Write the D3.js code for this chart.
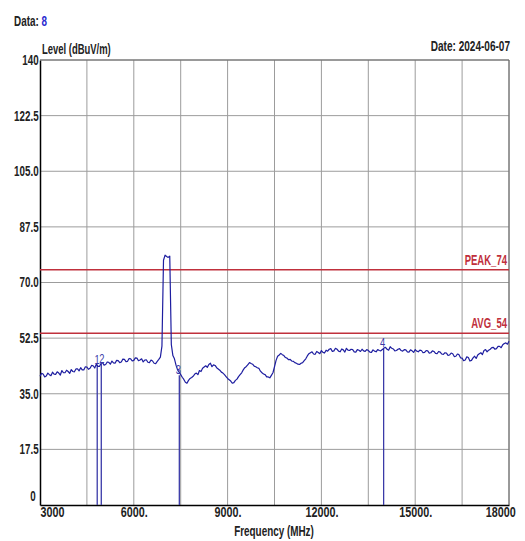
<!DOCTYPE html>
<html><head><meta charset="utf-8">
<script src="https://cdn.jsdelivr.net/npm/d3@7"></script>
<style>
html,body{margin:0;padding:0;background:#fff;}
svg{display:block;}
text{font-family:"Liberation Sans",Arial,sans-serif;}
</style></head>
<body>
<svg id="chart" width="525" height="541"></svg>
<script>
// ---- data ----
const yTicks = [0, 17.5, 35, 52.5, 70, 87.5, 105, 122.5, 140];
const yTickLabels = ["0", "17.5", "35.0", "52.5", "70.0", "87.5", "105.0", "122.5", "140"];
const xGrid = [3000, 4500, 6000, 7500, 9000, 10500, 12000, 13500, 15000, 16500, 18000];
const xTicks = [3000, 6000, 9000, 12000, 15000, 18000];
const xTickLabels = ["3000", "6000.", "9000.", "12000.", "15000.", "18000"];

const traceFreq = d3.range(3000, 18001, 50);
const traceLevel = [
 40.5,41.4,41.2,40.3,40.6,41.5,41.0,40.7,41.8,41.2,41.1,41.9,41.5,40.9,42.3,41.6,41.6,42.4,42.0,41.4,
 42.6,42.0,41.9,42.8,42.8,42.2,43.2,42.5,42.5,43.5,43.4,42.7,43.0,43.9,43.8,43.1,44.3,43.6,43.6,44.5,
 44.8,44.0,44.2,45.0,44.9,44.3,45.3,44.7,44.6,45.5,45.4,44.8,45.0,45.9,45.8,45.1,45.2,46.1,46.0,45.3,
 45.5,46.3,46.2,45.4,45.6,46.0,45.0,45.6,45.7,44.9,44.8,45.6,45.3,44.6,44.5,45.2,45.8,46.5,50.0,77.0,
 78.6,78.2,77.9,78.3,50.5,47.0,46.0,44.0,42.5,41.8,41.0,40.2,39.5,38.6,38.3,39.2,39.8,40.1,40.5,41.2,
 41.5,41.0,42.3,42.0,43.0,43.4,43.8,43.3,44.2,44.6,43.5,44.1,43.9,43.2,42.8,42.4,41.8,41.5,41.0,40.4,
 39.8,39.4,39.0,38.3,38.5,39.2,39.6,40.4,41.0,41.6,42.5,43.2,43.6,44.2,44.8,44.5,44.3,43.7,43.5,43.2,
 43.0,42.1,41.6,41.2,41.0,40.3,40.3,40.0,40.8,41.6,43.5,45.5,46.8,47.2,47.7,47.3,47.0,46.4,46.2,45.7,
 45.8,45.3,45.2,44.8,44.6,44.3,44.2,44.6,44.8,45.4,46.0,46.9,47.6,47.9,48.2,47.5,47.4,48.3,48.0,47.6,
 48.6,48.0,47.8,48.7,48.4,49.0,49.2,48.3,48.5,49.3,49.0,48.4,48.2,49.1,48.8,48.1,49.3,48.7,48.6,49.0,
 48.9,48.2,48.1,48.9,48.7,48.3,49.0,48.5,48.3,48.9,48.6,48.1,48.0,48.8,48.4,48.2,48.9,48.6,48.5,48.9,
 49.4,49.6,49.0,48.7,49.8,49.3,49.1,48.5,48.6,49.0,49.2,48.6,48.4,48.9,48.8,48.2,48.1,48.8,48.5,48.0,
 48.9,48.4,48.2,48.7,48.6,47.9,48.0,48.6,48.5,47.8,47.9,48.5,48.3,47.7,47.6,48.3,48.1,47.5,47.4,47.9,
 47.8,47.1,47.2,47.8,47.6,46.7,46.8,47.5,47.3,46.3,46.2,45.4,45.6,46.6,46.4,45.3,45.5,46.3,46.8,46.1,
 47.2,47.6,47.9,47.3,48.6,48.9,48.2,48.7,49.0,49.5,49.6,49.0,49.2,49.9,49.9,49.5,50.4,50.8,51.0,50.6,
 51.5
];

const limitValues = [74, 54];
const limitLabels = ["PEAK_74", "AVG_54"];

const markerFreq = [4830, 4960, 7456, 13990];
const markerLevel = [44.2, 44.4, 40.8, 49.3];
const markerLabels = ["1", "2", "3", "4"];

// ---- layout ----
const L = 40, R = 509, T = 60, B = 505;
const svg = d3.select("#chart");
const x = d3.scaleLinear().domain([3000, 18000]).range([L, R]);
const y = d3.scaleLinear().domain([0, 140]).range([B, T]);

function ctext(px, py, sx, size, txt, anchor, color) {
  return svg.append("text")
    .attr("transform", `translate(${px},${py}) scale(${sx},1)`)
    .attr("text-anchor", anchor || "start")
    .attr("font-size", size).attr("font-weight", "bold")
    .attr("fill", color || "#222").text(txt);
}

const gridColor = "#9c9c9c";
svg.append("g").selectAll("line").data(yTicks.slice(1)).join("line")
  .attr("x1", L).attr("x2", R).attr("y1", d => y(d)).attr("y2", d => y(d))
  .attr("stroke", gridColor).attr("stroke-width", 1);
svg.append("g").selectAll("line").data(xGrid.slice(1)).join("line")
  .attr("x1", d => x(d)).attr("x2", d => x(d)).attr("y1", T).attr("y2", B)
  .attr("stroke", gridColor).attr("stroke-width", 1);

// axes
const yAxis = d3.axisLeft(y).tickValues(yTicks).tickSize(0)
  .tickFormat((d, i) => yTickLabels[i]);
const gy = svg.append("g").attr("transform", `translate(${L},0)`).call(yAxis);
gy.select(".domain").attr("stroke", "#000").attr("stroke-width", 1.5);
gy.selectAll("text").attr("font-size", 14).attr("font-weight", "bold")
  .attr("fill", "#222").attr("x", -2).attr("transform", "scale(0.7,1)");
gy.selectAll(".tick").filter(d => d === 0).select("text").attr("dy", "-0.3em").attr("x", -6);

const xAxis = d3.axisBottom(x).tickValues(xTicks).tickSize(0)
  .tickFormat((d, i) => xTickLabels[i]);
const gx = svg.append("g").attr("transform", `translate(0,${B})`).call(xAxis);
gx.select(".domain").attr("stroke", "#000").attr("stroke-width", 1.5);
gx.selectAll("text").attr("font-size", 14).attr("font-weight", "bold")
  .attr("fill", "#222").attr("y", 2).attr("dy", "0.75em").attr("transform", "scale(0.77,1)");
gx.selectAll(".tick").filter(d => d === 3000).select("text").attr("text-anchor", "start");
gx.selectAll(".tick").filter(d => d === 18000).select("text").attr("text-anchor", "end").attr("x", 8);

// top/right frame
svg.append("line").attr("x1", L).attr("x2", R).attr("y1", T).attr("y2", T).attr("stroke", "#666");
svg.append("line").attr("x1", R).attr("x2", R).attr("y1", T).attr("y2", B).attr("stroke", "#666");

// limit lines
const limColor = "#c0303c";
limitValues.forEach((v, i) => {
  svg.append("line").attr("x1", L).attr("x2", R).attr("y1", y(v)).attr("y2", y(v))
    .attr("stroke", limColor).attr("stroke-width", 1.5);
  ctext(R - 2, y(v) - 5, 0.68, 14, limitLabels[i], "end", limColor);
});

// markers
const mColor = "#3a3aa8";
markerFreq.forEach((f, i) => {
  svg.append("line").attr("x1", x(f)).attr("x2", x(f)).attr("y1", B).attr("y2", y(markerLevel[i]))
    .attr("stroke", mColor).attr("stroke-width", 1.3);
});

// trace
const pts = traceFreq.map((f, i) => [f, traceLevel[i]]);
svg.append("path").datum(pts)
  .attr("d", d3.line().x(d => x(d[0])).y(d => y(d[1])))
  .attr("fill", "none").attr("stroke", "#1e1ea0").attr("stroke-width", 1.2)
  .attr("stroke-linejoin", "round");

// marker labels (neighbouring labels nudged together like the reference)
markerFreq.forEach((f, i) => {
  let dx = -1;
  if (i + 1 < markerFreq.length && x(markerFreq[i + 1]) - x(f) < 8) dx = 0;
  if (i > 0 && x(f) - x(markerFreq[i - 1]) < 8) dx = 0.5;
  svg.append("text")
    .attr("transform", `translate(${x(f) + dx},${y(markerLevel[i]) - 1}) scale(0.72,1)`)
    .attr("text-anchor", "middle").attr("font-size", 13).attr("fill", mColor)
    .text(markerLabels[i]);
});

// header texts
const hdr = svg.append("text").attr("transform", "translate(14,26) scale(0.66,1)")
  .attr("font-size", 15).attr("font-weight", "bold");
hdr.append("tspan").attr("fill", "#222").text("Data: ");
hdr.append("tspan").attr("fill", "#2a2ad0").text("8");
ctext(42, 54, 0.63, 15, "Level (dBuV/m)");
ctext(510, 51, 0.67, 15, "Date: 2024-06-07", "end");
ctext(274, 536, 0.66, 15, "Frequency (MHz)", "middle");
</script>
</body></html>
